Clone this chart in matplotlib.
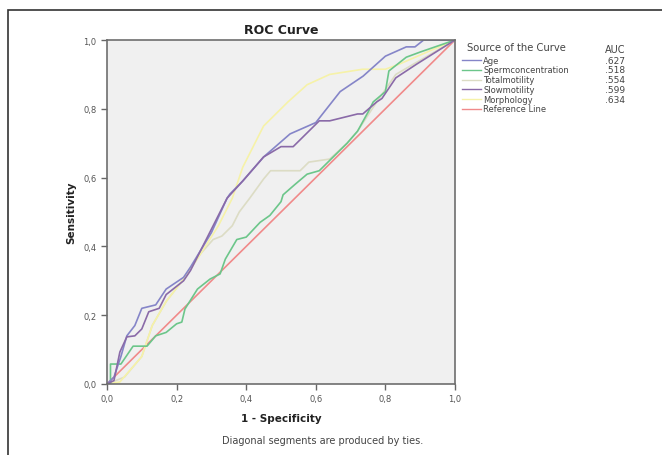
import matplotlib
matplotlib.use("Agg")
import matplotlib.pyplot as plt
from matplotlib.patches import Rectangle
from matplotlib.lines import Line2D

# ROC curves (1 - specificity, sensitivity)
age_x = [0, 0.02, 0.04, 0.057, 0.08, 0.10, 0.14, 0.17, 0.22, 0.24, 0.30, 0.345, 0.353,
         0.39, 0.45, 0.526, 0.60, 0.67, 0.736, 0.80, 0.86, 0.885, 0.91, 1.0]
age_y = [0, 0.02, 0.08, 0.14, 0.17, 0.22, 0.23, 0.276, 0.31, 0.34, 0.44, 0.54, 0.552,
         0.59, 0.66, 0.727, 0.76, 0.85, 0.895, 0.953, 0.98, 0.98, 1.0, 1.0]

sperm_x = [0, 0.01, 0.01, 0.04, 0.075, 0.115, 0.14, 0.17, 0.20, 0.215, 0.224, 0.26, 0.296,
           0.325, 0.34, 0.373, 0.40, 0.44, 0.468, 0.50, 0.506, 0.54, 0.575, 0.61, 0.65,
           0.69, 0.72, 0.75, 0.765, 0.80, 0.81, 0.86, 0.90, 1.0]
sperm_y = [0, 0.0, 0.058, 0.058, 0.11, 0.11, 0.14, 0.15, 0.175, 0.18, 0.218, 0.276, 0.305,
           0.32, 0.363, 0.42, 0.427, 0.47, 0.49, 0.53, 0.55, 0.58, 0.61, 0.62, 0.66,
           0.70, 0.735, 0.79, 0.82, 0.85, 0.91, 0.95, 0.965, 1.0]

total_x = [0, 0.05, 0.10, 0.13, 0.17, 0.22, 0.27, 0.305, 0.33, 0.36, 0.38, 0.41, 0.45,
           0.47, 0.555, 0.58, 0.64, 0.69, 0.72, 0.775, 0.83, 1.0]
total_y = [0, 0.02, 0.08, 0.17, 0.24, 0.305, 0.38, 0.42, 0.43, 0.46, 0.50, 0.54, 0.596,
           0.62, 0.62, 0.645, 0.654, 0.70, 0.735, 0.82, 0.90, 1.0]

slow_x = [0, 0.02, 0.037, 0.057, 0.08, 0.10, 0.12, 0.15, 0.17, 0.22, 0.24, 0.30, 0.345,
          0.39, 0.45, 0.50, 0.535, 0.61, 0.64, 0.72, 0.735, 0.775, 0.79, 0.83, 0.89, 1.0]
slow_y = [0, 0.01, 0.093, 0.137, 0.14, 0.16, 0.21, 0.22, 0.26, 0.30, 0.33, 0.45, 0.54,
          0.59, 0.66, 0.69, 0.69, 0.765, 0.765, 0.785, 0.785, 0.82, 0.83, 0.89, 0.93, 1.0]

morph_x = [0, 0.037, 0.10, 0.13, 0.17, 0.22, 0.27, 0.32, 0.36, 0.39, 0.45, 0.52, 0.575,
           0.64, 0.735, 0.80, 0.84, 1.0]
morph_y = [0, 0.006, 0.08, 0.17, 0.24, 0.305, 0.38, 0.46, 0.54, 0.63, 0.75, 0.82, 0.87,
           0.90, 0.915, 0.915, 0.93, 1.0]

names = ["Age", "Spermconcentration", "Totalmotility", "Slowmotility", "Morphology",
         "Reference Line"]
auc = [".627", ".518", ".554", ".599", ".634", ""]
colors = ["#8585c8", "#6cc68a", "#dcdcc4", "#8a6aa8", "#f6f2a8", "#f08a8a"]

fig = plt.figure(figsize=(6.62, 4.56), dpi=100)
fig.patches.append(Rectangle((8 / 662, -0.2), 1.5, 1.2 - 11 / 456, transform=fig.transFigure,
                             fill=False, edgecolor="#333333", linewidth=1.2))

ax = fig.add_axes([107 / 662, 1 - 385 / 456, 348 / 662, 344 / 456])
ax.set_facecolor("#f0f0f0")

curves = [(age_x, age_y), (sperm_x, sperm_y), (total_x, total_y),
          (slow_x, slow_y), (morph_x, morph_y), ([0, 1], [0, 1])]
# reference first so the curves sit on top of it
order = [5, 2, 4, 1, 0, 3]
for i in order:
    xs, ys = curves[i]
    ax.plot(xs, ys, color=colors[i], linewidth=1.2)

ax.set_xlim(0, 1)
ax.set_ylim(0, 1)
ticks = [0, 0.2, 0.4, 0.6, 0.8, 1.0]
ticklabels = ["0,0", "0,2", "0,4", "0,6", "0,8", "1,0"]
ax.set_xticks(ticks)
ax.set_xticklabels(ticklabels)
ax.set_yticks(ticks)
ax.set_yticklabels(ticklabels)
ax.tick_params(labelsize=6, colors="#666666", length=4, width=1, labelcolor="#555555")
for s in ax.spines.values():
    s.set_color("#6e6e6e")
    s.set_linewidth(1.2)

ax.set_title("ROC Curve", fontsize=9, fontweight="bold", color="#222222", pad=5)
ax.set_xlabel("1 - Specificity", fontsize=7.5, fontweight="bold", color="#222222", labelpad=7)
ax.set_ylabel("Sensitivity", fontsize=7.5, fontweight="bold", color="#222222", labelpad=5)

fig.text(323 / 662, 1 - 441 / 456, "Diagonal segments are produced by ties.",
         ha="center", va="center", fontsize=7, color="#444444")

# legend, drawn by hand to keep the SPSS look
fig.text(467 / 662, 1 - 48 / 456, "Source of the Curve", fontsize=7.2, color="#444444",
         va="center")
fig.text(625 / 662, 1 - 50 / 456, "AUC", fontsize=7, color="#444444", va="center", ha="right")
for k, (name, a, c) in enumerate(zip(names, auc, colors)):
    yy = 1 - (61 + k * 9.8) / 456
    fig.add_artist(Line2D([462 / 662, 481 / 662], [yy, yy], transform=fig.transFigure,
                          color=c, linewidth=1.0))
    fig.text(483 / 662, yy, name, fontsize=6, color="#444444", va="center")
    if a:
        fig.text(625 / 662, yy, a, fontsize=6.5, color="#444444", va="center", ha="right")

fig.savefig("out.png", dpi=100)
